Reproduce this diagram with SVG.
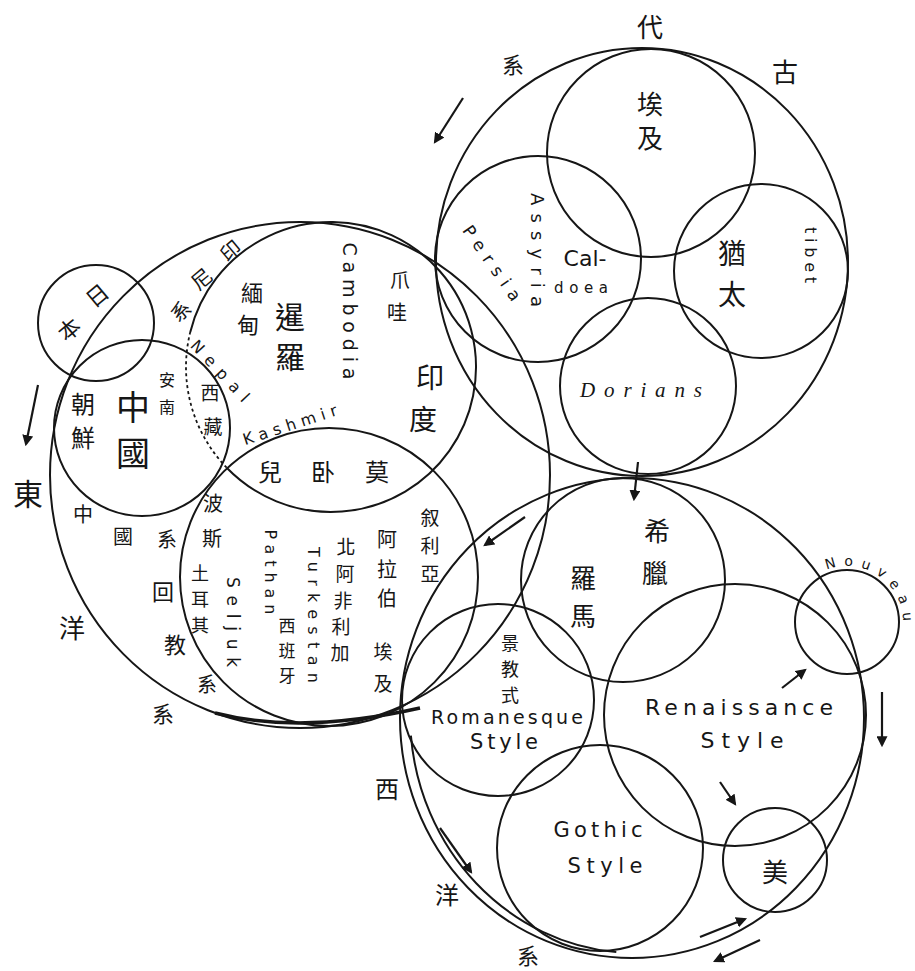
<svg xmlns="http://www.w3.org/2000/svg" width="915" height="971" viewBox="0 0 915 971">
<style>
.c{fill:none;stroke:#161616;stroke-width:2}
.d{fill:none;stroke:#161616;stroke-width:1.8;stroke-dasharray:3 3}
.b{fill:none;stroke:#161616;stroke-width:3.5}
.k{font-family:"Noto Sans CJK TC","Noto Sans CJK SC",sans-serif;fill:#161616;text-anchor:middle;dominant-baseline:central}
.e{font-family:"DejaVu Sans","Liberation Sans",sans-serif;fill:#161616;text-anchor:middle;dominant-baseline:central}
.s{font-family:"Liberation Serif","DejaVu Serif",serif;font-style:italic;fill:#161616;text-anchor:middle;dominant-baseline:central}
.a{fill:none;stroke:#161616;stroke-width:2.2;marker-end:url(#ah)}
</style>
<defs>
<marker id="ah" viewBox="0 0 10 10" refX="8" refY="5" markerWidth="5" markerHeight="5" orient="auto" markerUnits="strokeWidth">
<path d="M0 0 L10 5 L0 10 z" fill="#161616"/>
</marker>
<path id="nvArc" d="M 826.7 569.8 A 56 56 0 0 1 902.2 631.7"/>
</defs>
<rect width="915" height="971" fill="#ffffff"/>

<g id="kodai">
<ellipse class="c" cx="642" cy="262" rx="206" ry="214"/>
<text class="k" x="650" y="25" font-size="26">代</text>
<text class="k" x="785" y="70" font-size="26">古</text>
<text class="k" x="513" y="63" font-size="22">系</text>
</g>
<g id="egypt">
<circle class="c" cx="651" cy="153" r="104"/>
<text class="k" x="650" y="102" font-size="26">埃</text>
<text class="k" x="650" y="136" font-size="26">及</text>
</g>
<g id="assyria">
<circle class="c" cx="538" cy="259" r="103"/>
<text class="e" x="537" y="250" font-size="18" textLength="114" lengthAdjust="spacing" transform="rotate(90 537 250)">Assyria</text>
<text class="e" x="492" y="263" font-size="17" textLength="88" lengthAdjust="spacing" transform="rotate(55 492 263)">Persia</text>
<text class="e" x="585" y="258" font-size="22">Cal-</text>
<text class="e" x="581" y="288" font-size="15" textLength="54" lengthAdjust="spacing">doea</text>
</g>
<g id="judea">
<circle class="c" cx="761" cy="271" r="87"/>
<text class="k" x="732" y="252" font-size="28">猶</text>
<text class="k" x="732" y="293" font-size="28">太</text>
<text class="e" x="810" y="255" font-size="16" textLength="56" lengthAdjust="spacing" transform="rotate(90 810 255)">tibet</text>
</g>
<g id="dorians">
<circle class="c" cx="648" cy="386" r="88"/>
<text class="s" x="641" y="390" font-size="21" textLength="122" lengthAdjust="spacing">Dorians</text>
</g>

<g id="toyo">
<ellipse class="c" cx="300" cy="475" rx="250" ry="253"/>
<path class="b" d="M 215 713 Q 300 735 420 708"/>
<text class="k" x="28" y="492" font-size="30">東</text>
<text class="k" x="72" y="626" font-size="26">洋</text>
<text class="k" x="163" y="712" font-size="22">系</text>
<text class="k" x="83" y="513" font-size="20">中</text>
<text class="k" x="123" y="535" font-size="20">國</text>
<text class="k" x="167" y="538" font-size="20">系</text>
<text class="k" x="163" y="590" font-size="22">回</text>
<text class="k" x="175" y="643" font-size="22">教</text>
<text class="k" x="207" y="683" font-size="20">系</text>
</g>
<g id="japan">
<circle class="c" cx="96" cy="323" r="58"/>
<text class="k" x="68" y="328" font-size="22" transform="rotate(-40 68 328)">本</text>
<text class="k" x="96" y="294" font-size="22" transform="rotate(-40 96 294)">日</text>
</g>
<g id="china">
<circle class="c" cx="142" cy="428" r="88"/>
<text class="k" x="133" y="405" font-size="34">中</text>
<text class="k" x="133" y="451" font-size="34">國</text>
<text class="k" x="83" y="402" font-size="24">朝</text>
<text class="k" x="83" y="436" font-size="24">鮮</text>
<text class="k" x="167" y="379" font-size="16">安</text>
<text class="k" x="167" y="406" font-size="16">南</text>
<text class="e" x="220" y="371" font-size="16" textLength="78" lengthAdjust="spacing" transform="rotate(47 220 371)">Nepal</text>
<text class="k" x="210" y="391" font-size="19">西</text>
<text class="k" x="213" y="425" font-size="19">藏</text>
</g>
<g id="india">
<path class="c" d="M 190.3 331.9 A 145 145 0 1 1 226.7 467.7"/>
<path class="d" d="M 226.7 467.7 A 145 145 0 0 1 190.3 331.9"/>
<text class="k" x="180" y="310" font-size="20" transform="rotate(-40 180 310)">系</text>
<text class="k" x="201" y="278" font-size="20" transform="rotate(-40 201 278)">尼</text>
<text class="k" x="230" y="250" font-size="20" transform="rotate(-40 230 250)">印</text>
<text class="k" x="252" y="291" font-size="22">緬</text>
<text class="k" x="248" y="323" font-size="22">甸</text>
<text class="k" x="290" y="315" font-size="30">暹</text>
<text class="k" x="290" y="355" font-size="30">羅</text>
<text class="e" x="350" y="311" font-size="19" textLength="137" lengthAdjust="spacing" transform="rotate(90 350 311)">Cambodia</text>
<text class="k" x="400" y="279" font-size="20">爪</text>
<text class="k" x="397" y="311" font-size="20">哇</text>
<text class="k" x="430" y="376" font-size="28">印</text>
<text class="k" x="423" y="418" font-size="28">度</text>
<text class="e" x="290" y="425" font-size="16" textLength="98" lengthAdjust="spacing" transform="rotate(-18 290 425)">Kashmir</text>
</g>
<g id="islam">
<circle class="c" cx="329" cy="577" r="149"/>
<text class="k" x="270" y="470" font-size="24">兒</text>
<text class="k" x="323" y="470" font-size="24">卧</text>
<text class="k" x="377" y="470" font-size="24">莫</text>
<text class="k" x="213" y="502" font-size="20">波</text>
<text class="k" x="212" y="537" font-size="20">斯</text>
<text class="k" x="200" y="572" font-size="18">土</text>
<text class="k" x="200" y="598" font-size="18">耳</text>
<text class="k" x="200" y="624" font-size="18">其</text>
<text class="e" x="233" y="622" font-size="17" textLength="90" lengthAdjust="spacing" transform="rotate(90 233 622)">Seljuk</text>
<text class="e" x="270" y="572" font-size="16" textLength="85" lengthAdjust="spacing" transform="rotate(90 270 572)">Pathan</text>
<text class="k" x="287" y="624" font-size="17">西</text>
<text class="k" x="287" y="649" font-size="17">班</text>
<text class="k" x="287" y="674" font-size="17">牙</text>
<text class="e" x="313" y="615" font-size="16" textLength="136" lengthAdjust="spacing" transform="rotate(90 313 615)">Turkestan</text>
<text class="k" x="346" y="545" font-size="19">北</text>
<text class="k" x="345" y="572" font-size="19">阿</text>
<text class="k" x="343" y="599" font-size="19">非</text>
<text class="k" x="341" y="625" font-size="19">利</text>
<text class="k" x="340" y="651" font-size="19">加</text>
<text class="k" x="387" y="538" font-size="20">阿</text>
<text class="k" x="387" y="568" font-size="20">拉</text>
<text class="k" x="387" y="597" font-size="20">伯</text>
<text class="k" x="383" y="650" font-size="19">埃</text>
<text class="k" x="383" y="682" font-size="19">及</text>
<text class="k" x="430" y="516" font-size="19">叙</text>
<text class="k" x="430" y="544" font-size="19">利</text>
<text class="k" x="430" y="572" font-size="19">亞</text>
</g>

<g id="seiyo">
<ellipse class="c" cx="632" cy="718" rx="232" ry="240"/>
<path class="c" d="M 410.9 735.7 A 226 238 0 0 0 616.3 952.1"/>
<text class="k" x="387" y="787" font-size="24">西</text>
<text class="k" x="447" y="893" font-size="24">洋</text>
<text class="k" x="528" y="954" font-size="22">系</text>
</g>
<g id="greece">
<circle class="c" cx="623" cy="580" r="102"/>
<text class="k" x="657" y="529" font-size="26">希</text>
<text class="k" x="655" y="571" font-size="26">臘</text>
<text class="k" x="583" y="576" font-size="26">羅</text>
<text class="k" x="583" y="614" font-size="26">馬</text>
</g>
<g id="romanesque">
<circle class="c" cx="498" cy="700" r="96"/>
<text class="k" x="510" y="642" font-size="18">景</text>
<text class="k" x="510" y="668" font-size="18">教</text>
<text class="k" x="510" y="694" font-size="18">式</text>
<text class="e" x="507" y="717" font-size="19" textLength="152" lengthAdjust="spacing">Romanesque</text>
<text class="e" x="504" y="742" font-size="21" textLength="68" lengthAdjust="spacing">Style</text>
</g>
<g id="gothic">
<circle class="c" cx="600" cy="848" r="103"/>
<text class="e" x="598" y="830" font-size="21" textLength="89" lengthAdjust="spacing">Gothic</text>
<text class="e" x="605" y="866" font-size="21" textLength="75" lengthAdjust="spacing">Style</text>
</g>
<g id="renaissance">
<circle class="c" cx="735" cy="715" r="131"/>
<text class="e" x="739" y="707" font-size="22" textLength="188" lengthAdjust="spacing">Renaissance</text>
<text class="e" x="742" y="740" font-size="22" textLength="83" lengthAdjust="spacing">Style</text>
</g>
<g id="nouveau">
<circle class="c" cx="847" cy="622" r="52"/>
<text class="e" font-size="14" style="dominant-baseline:auto;text-anchor:start"><textPath href="#nvArc" textLength="108" lengthAdjust="spacing">Nouveau</textPath></text>
</g>
<g id="america">
<circle class="c" cx="775" cy="860" r="52"/>
<text class="k" x="775" y="870" font-size="26">美</text>
</g>

<g id="connectors">
<path class="a" d="M 463 98 L 435 142"/>
<path class="a" d="M 38 385 L 26 444"/>
<path class="a" d="M 638 462 L 634 499"/>
<path class="a" d="M 525 517 L 485 545"/>
<path class="a" d="M 782 688 L 805 670"/>
<path class="a" d="M 882 692 L 882 745"/>
<path class="a" d="M 720 782 L 735 804"/>
<path class="a" d="M 440 828 L 471 872"/>
<path class="a" d="M 700 937 L 745 919"/>
<path class="a" d="M 760 940 L 715 961"/>
</g>
</svg>
